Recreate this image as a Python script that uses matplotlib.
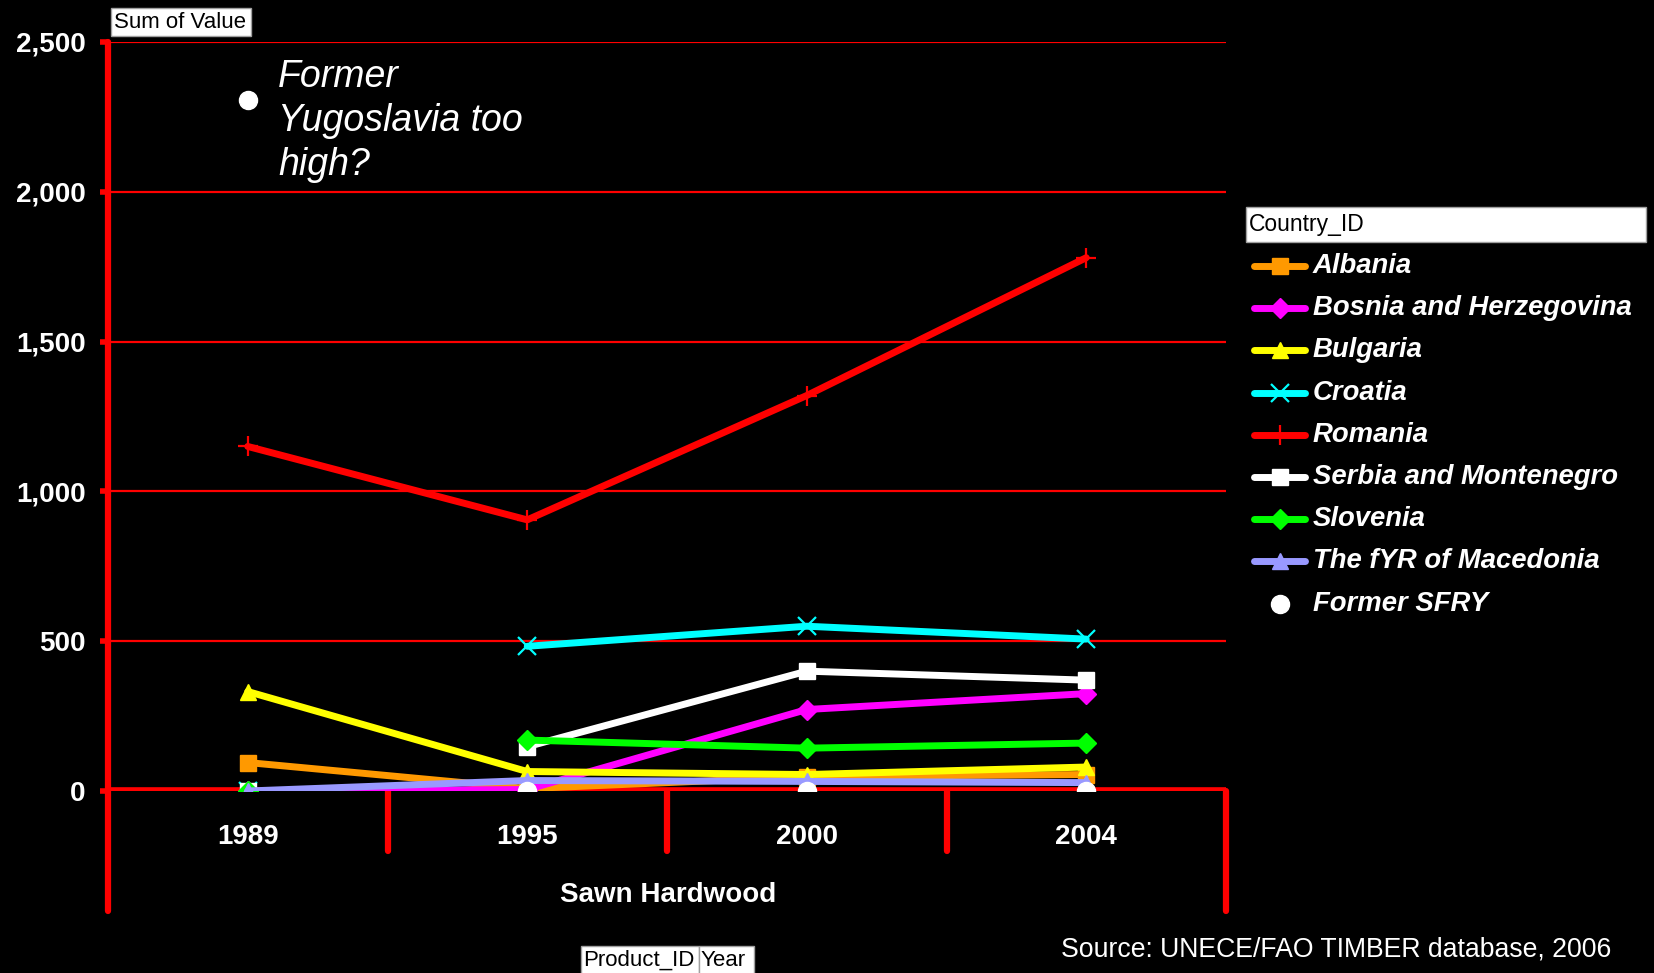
import numpy as np
import matplotlib
matplotlib.use('Agg')
import matplotlib.pyplot as plt
from matplotlib.lines import Line2D
from matplotlib.patches import Rectangle

# Sum of Value, Sawn Hardwood, by country and year
years = ['1989', '1995', '2000', '2004']
countries = ['Albania', 'Bosnia and Herzegovina', 'Bulgaria', 'Croatia', 'Romania',
             'Serbia and Montenegro', 'Slovenia', 'The fYR of Macedonia', 'Former SFRY']
albania = [95, 8, 48, 55]
bosnia = [0, 5, 272, 325]
bulgaria = [332, 65, 55, 80]
croatia = [0, 483, 550, 507]
romania = [1150, 905, 1320, 1780]
serbia = [0, 148, 400, 370]
slovenia = [0, 170, 143, 160]
macedonia = [0, 35, 32, 28]
former_sfry = [np.nan, 0, 0, 0]

values = [albania, bosnia, bulgaria, croatia, romania, serbia, slovenia, macedonia, former_sfry]

# series whose 1989 point stands alone (line starts in 1995)
line_start = {'Croatia': 1, 'Serbia and Montenegro': 1, 'Slovenia': 1}

styles = {
    'Albania': dict(color='#FF9900', marker='s', ms=11),
    'Bosnia and Herzegovina': dict(color='#FF00FF', marker='D', ms=10),
    'Bulgaria': dict(color='#FFFF00', marker='^', ms=12),
    'Croatia': dict(color='#00FFFF', marker='x', ms=13, mew=1.6),
    'Romania': dict(color='#FF0000', marker='+', ms=15, mew=1.6),
    'Serbia and Montenegro': dict(color='#FFFFFF', marker='s', ms=11),
    'Slovenia': dict(color='#00FF00', marker='D', ms=10),
    'The fYR of Macedonia': dict(color='#9999FF', marker='^', ms=12),
    'Former SFRY': dict(color='#FFFFFF', marker='o', ms=13),
}

W, H = 1654, 973
RED = '#FF0000'
FONT = 'Liberation Sans'


def fx(px):
    return px / W


def fy(py):
    return 1 - py / H


def white_box(x0, y0, x1, y1):
    fig.add_artist(Rectangle((fx(x0), fy(y1)), fx(x1) - fx(x0), fy(y0) - fy(y1),
                             transform=fig.transFigure, fc='white', ec='#A0A0A0', lw=1))


fig = plt.figure(figsize=(W / 100, H / 100), dpi=100, facecolor='black')
ax = fig.add_axes([fx(108), fy(791), fx(1226) - fx(108), fy(42) - fy(791)])
ax.set_facecolor('black')

x = np.arange(len(years))
for name, vals in zip(countries, values):
    st = styles[name]
    vals = np.array(vals, dtype=float)
    ls = 'none' if name == 'Former SFRY' else '-'
    s = line_start.get(name, 0)
    ax.plot(x[s:], vals[s:], color=st['color'], lw=5, ls=ls, marker=st['marker'],
            ms=st['ms'], mew=st.get('mew', 1), mfc=st['color'], mec=st['color'],
            solid_capstyle='round', zorder=3)
    if s:
        ax.plot(x[:s], vals[:s], ls='none', marker=st['marker'], ms=st['ms'],
                mew=st.get('mew', 1), mfc=st['color'], mec=st['color'], zorder=3)

ax.set_xlim(-0.5, 3.5)
ax.set_ylim(0, 2500)
ax.set_yticks(np.arange(0, 2501, 500))
ax.yaxis.set_major_formatter(matplotlib.ticker.StrMethodFormatter('{x:,.0f}'))
ax.set_xticks(x)
ax.set_xticklabels(years)

for sp in ['top', 'right', 'bottom', 'left']:
    ax.spines[sp].set_visible(False)

# gridlines and zero line
for yv in np.arange(500, 2501, 500):
    ax.axhline(yv, color=RED, lw=1.6, zorder=1)
ax.axhline(0, color=RED, lw=5.5, zorder=1.5, solid_capstyle='butt')

# left axis line running down past the category rows
trans = ax.get_xaxis_transform()
ax.plot([-0.5, -0.5], [-0.16, 1.0], color=RED, lw=4.5, transform=trans,
        clip_on=False, solid_capstyle='round', zorder=1.5)
ax.plot([3.5, 3.5], [-0.16, 0.0], color=RED, lw=4.5, transform=trans,
        clip_on=False, solid_capstyle='round', zorder=1.5)
for b in [0.5, 1.5, 2.5]:
    ax.plot([b, b], [-0.08, 0.0], color=RED, lw=4.5, transform=trans,
            clip_on=False, solid_capstyle='round', zorder=1.5)

ax.tick_params(axis='y', colors=RED, length=6, width=4, pad=10, labelcolor='white')
ax.tick_params(axis='x', length=0, pad=24, labelcolor='white')
for lab in ax.get_yticklabels() + ax.get_xticklabels():
    lab.set_fontfamily(FONT)
    lab.set_fontweight('bold')
    lab.set_fontsize(20)

# header and field buttons
white_box(111, 8, 251, 36)
fig.text(fx(114), fy(22), 'Sum of Value', fontfamily=FONT, fontsize=16, color='black',
         va='center', ha='left')
fig.text(fx(668), fy(895), 'Sawn Hardwood', fontfamily=FONT, fontsize=20,
         fontweight='bold', color='white', ha='center', va='center')
white_box(581, 946, 699, 975)
white_box(699, 946, 754, 975)
fig.text(fx(583), fy(960), 'Product_ID', fontfamily=FONT, fontsize=16, color='black',
         va='center', ha='left')
fig.text(fx(701), fy(960), 'Year', fontfamily=FONT, fontsize=16, color='black',
         va='center', ha='left')
fig.text(fx(1611), fy(949), 'Source: UNECE/FAO TIMBER database, 2006', fontfamily=FONT,
         fontsize=19.2, color='white', ha='right', va='center')

# note with bullet
fig.add_artist(Line2D([fx(248)], [fy(100)], marker='o', ms=13, color='white', ls='none'))
fig.text(fx(278), fy(121), 'Former\nYugoslavia too\nhigh?', fontfamily=FONT, fontsize=27,
         fontstyle='italic', color='white', ha='left', va='center', linespacing=1.27)

# legend
white_box(1246, 207, 1646, 242)
fig.text(fx(1249), fy(225), 'Country_ID', fontfamily=FONT, fontsize=16.5, color='black',
         ha='left', va='center')
for i, name in enumerate(countries):
    st = styles[name]
    yy = fy(266 + i * 42.2)
    if name == 'Former SFRY':
        fig.add_artist(Line2D([fx(1280)], [yy], marker='o', ms=13, color='white', ls='none'))
    else:
        fig.add_artist(Line2D([fx(1254), fx(1280), fx(1305)], [yy, yy, yy], color=st['color'],
                              lw=5, marker=st['marker'], markevery=[1], ms=st['ms'],
                              mew=st.get('mew', 1), mfc=st['color'], mec=st['color'],
                              solid_capstyle='round'))
    fig.text(fx(1313), yy, name, fontfamily=FONT, fontsize=19.8, fontweight='bold',
             fontstyle='italic', color='white', ha='left', va='center')

fig.savefig('out.png', dpi=100, facecolor='black')
